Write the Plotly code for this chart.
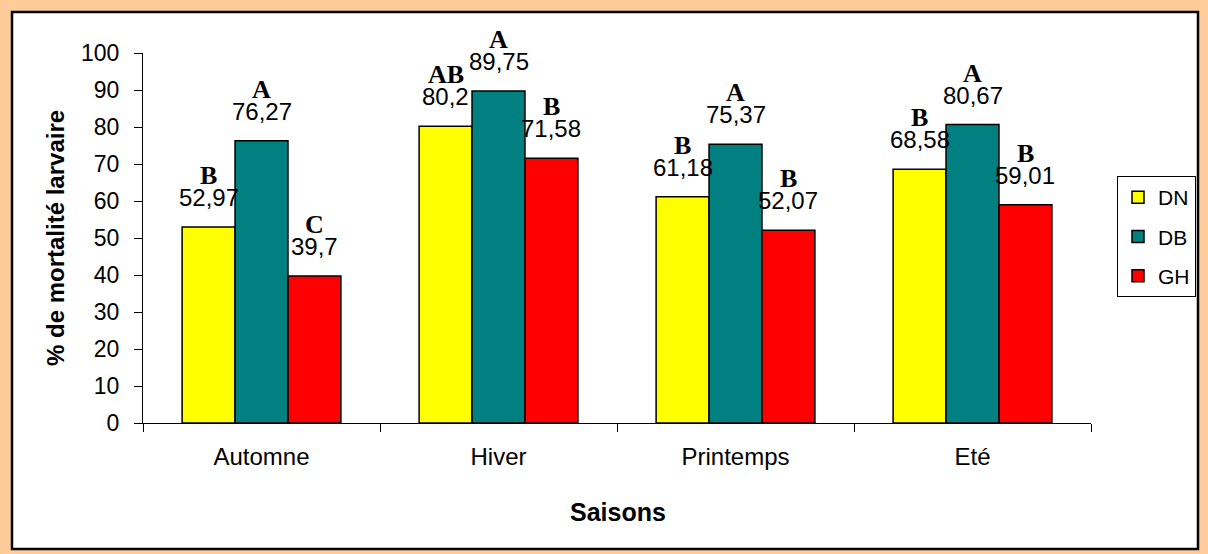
import plotly.graph_objects as go

# Seasonal larval mortality (%) for the three treatments
saisons = ["Automne", "Hiver", "Printemps", "Eté"]
dn = [52.97, 80.2, 61.18, 68.58]
db = [76.27, 89.75, 75.37, 80.67]
gh = [39.7, 71.58, 52.07, 59.01]

# Statistical group letters shown above each bar
lettres_dn = ["B", "AB", "B", "B"]
lettres_db = ["A", "A", "A", "A"]
lettres_gh = ["C", "B", "B", "B"]

series = [
    ("DN", dn, lettres_dn, "#FFFF00"),
    ("DB", db, lettres_db, "#008080"),
    ("GH", gh, lettres_gh, "#FF0000"),
]

W, H = 1208, 554
L, R, T, B = 143, 117, 53, 131
pw, ph = W - L - R, H - T - B

BARGAP = 0.33
bar_w = (1 - BARGAP) / len(series)

fig = go.Figure()
annotations = []
for k, (name, vals, lettres, color) in enumerate(series):
    fig.add_trace(go.Bar(
        x=saisons, y=vals, name=name, legendgroup=name,
        marker=dict(color=color, line=dict(color="black", width=1.5)),
        hoverinfo="x+y+name",
    ))
    off = (k - (len(series) - 1) / 2) * bar_w
    for i, v in enumerate(vals):
        annotations.append(dict(
            x=i + off, y=v, xref="x", yref="y",
            text=str(v).replace(".", ","), showarrow=False,
            yanchor="bottom", yshift=14,
            font=dict(family="Liberation Sans, Arial", size=24, color="black"),
        ))
        annotations.append(dict(
            x=i + off, y=v, xref="x", yref="y",
            text="<b>" + lettres[i] + "</b>", showarrow=False,
            yanchor="bottom", yshift=35,
            font=dict(family="Liberation Serif, Times New Roman", size=26, color="black"),
        ))

# Axis titles
annotations.append(dict(
    x=(618 - L) / pw, y=(H - B - 512) / ph, xref="paper", yref="paper",
    text="<b>Saisons</b>", showarrow=False, yanchor="middle",
    font=dict(family="Liberation Sans, Arial", size=25, color="black"),
))
annotations.append(dict(
    x=(55 - L) / pw, y=0.5, xref="paper", yref="paper",
    text="<b>% de mortalité larvaire</b>", showarrow=False, textangle=-90,
    xanchor="center", yanchor="middle",
    font=dict(family="Liberation Sans, Arial", size=24, color="black"),
))

# White chart panel with black frame over the tan page background
shapes = [dict(
    type="rect", xref="paper", yref="paper", layer="below",
    x0=(12 - L) / pw, x1=(1198 - L) / pw,
    y0=(H - B - 549) / ph, y1=(H - B - 12) / ph,
    fillcolor="white", line=dict(color="black", width=2.5),
)]

fig.update_layout(
    width=W, height=H,
    margin=dict(l=L, r=R, t=T, b=B, pad=0),
    paper_bgcolor="#FFCC99",
    plot_bgcolor="rgba(0,0,0,0)",
    barmode="group", bargap=BARGAP, bargroupgap=0,
    font=dict(family="Liberation Sans, Arial", color="black"),
    annotations=annotations, shapes=shapes,
    legend=dict(
        x=(1117 - L) / pw, y=(H - B - 176) / ph,
        xanchor="left", yanchor="top",
        bordercolor="black", borderwidth=1, bgcolor="white",
        font=dict(family="Liberation Sans, Arial", size=21, color="black"),
        tracegroupgap=9, itemwidth=30, traceorder="grouped",
    ),
    xaxis=dict(
        type="category", tickson="boundaries",
        showline=True, linecolor="black", linewidth=1,
        ticks="outside", ticklen=8, tickcolor="black",
        tickfont=dict(size=24), ticklabelstandoff=12,
        showgrid=False, zeroline=False,
    ),
    yaxis=dict(
        range=[0, 100], dtick=10, tick0=0,
        showline=True, linecolor="black", linewidth=1,
        ticks="outside", ticklen=8, tickcolor="black",
        tickfont=dict(size=23), ticklabelstandoff=10,
        showgrid=False, zeroline=False,
    ),
)

fig.write_html("out.html")
